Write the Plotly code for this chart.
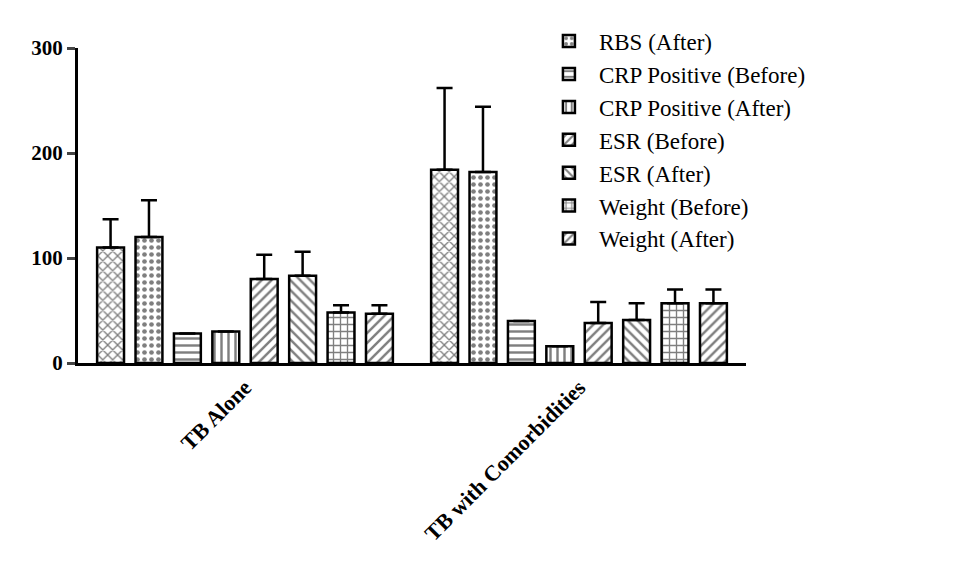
import plotly.graph_objects as go

groups = ["TB Alone", "TB with Comorbidities"]
series = ["RBS (Before)", "RBS (After)", "CRP Positive (Before)", "CRP Positive (After)",
          "ESR (Before)", "ESR (After)", "Weight (Before)", "Weight (After)"]
means = [[110, 184], [120, 182], [28, 40], [30, 16], [80, 38], [83, 41], [48, 57], [47, 57]]
errors = [[27, 78], [35, 62], [0, 0], [0, 0], [23, 20], [23, 16], [7, 13], [8, 13]]
patterns = ["x", ".", "-", "|", "/", "\\", "+", "/"]

fig = go.Figure()
for i, (name, m, e, p) in enumerate(zip(series, means, errors, patterns)):
    fig.add_trace(go.Bar(
        x=groups, y=m, name=name, showlegend=i > 0,  # first entry is cut off in the source
        marker=dict(color="white", line=dict(color="black", width=2.5),
                    pattern=dict(shape=p, fgcolor="black", size=7, solidity=0.35)),
        error_y=dict(type="data", array=e, arrayminus=[0] * len(e), symmetric=False,
                     color="black", thickness=2.5, width=8),
    ))

font = dict(family="Liberation Serif, Times New Roman, serif", color="black")
fig.update_layout(
    width=968, height=576, barmode="group", bargap=0.08, bargroupgap=0.3,
    plot_bgcolor="white", paper_bgcolor="white",
    margin=dict(l=70, r=230, t=40, b=221),
    font=font,
    legend=dict(x=0.69, y=1.09, yanchor="top", xanchor="left",
                font=dict(size=23, family=font["family"]), tracegroupgap=0,
                itemwidth=50, bgcolor="rgba(0,0,0,0)"),
    xaxis=dict(showline=True, linecolor="black", linewidth=3, tickangle=-45,
               tickfont=dict(size=22, family="Liberation Serif", weight="bold")),
    yaxis=dict(range=[0, 300], tickvals=[0, 100, 200, 300], showline=True,
               linecolor="black", linewidth=3, ticks="outside", ticklen=8, tickwidth=3,
               showgrid=False, zeroline=False,
               tickfont=dict(size=21, family="Liberation Serif", weight="bold")),
)
fig.write_html("out.html")
